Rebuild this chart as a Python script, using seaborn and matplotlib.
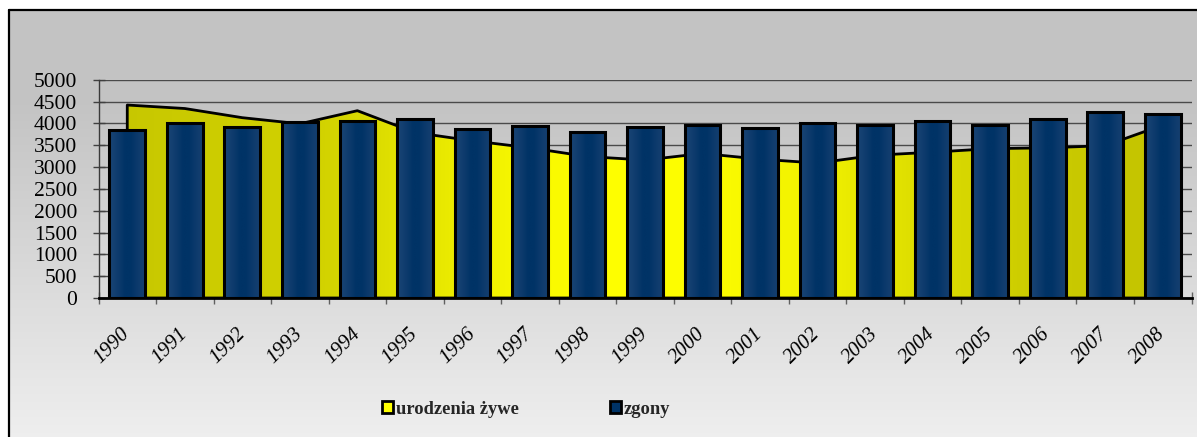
import numpy as np
import pandas as pd
import matplotlib
matplotlib.use('Agg')
import matplotlib.pyplot as plt
import seaborn as sns
from matplotlib.colors import LinearSegmentedColormap
from matplotlib.patches import Patch
from matplotlib.lines import Line2D

years = [str(y) for y in range(1990, 2009)]
births = [4420, 4340, 4130, 3990, 4290, 3790, 3600, 3440, 3240, 3160,
          3310, 3180, 3090, 3270, 3340, 3420, 3440, 3490, 3960]
deaths = [3840, 4010, 3910, 4030, 4050, 4100, 3860, 3940, 3800, 3910,
          3970, 3890, 4000, 3960, 4050, 3960, 4100, 4260, 4210]
y_ticks = list(range(0, 5001, 500))
legend_labels = ['urodzenia żywe', 'zgony']

df = pd.DataFrame({'rok': years, 'zgony': deaths, 'urodzenia': births})

sns.set_theme(style='white')
plt.rcParams['font.family'] = ['Liberation Serif', 'DejaVu Serif']

W, H = 1197, 437
fig = plt.figure(figsize=(W / 100, H / 100), dpi=100)
fig.patch.set_facecolor('white')

# grey background gradient inside the frame
bg = fig.add_axes([9 / W, 0, 1 - 9 / W, (H - 10) / H])
bg.set_axis_off()
t = np.linspace(0, 1, 300)
shade = np.where(t < 0.22, 0.768, 0.768 + (t - 0.22) / 0.78 * (0.935 - 0.768))
img = np.repeat(shade[:, None, None], 3, axis=2)
bg.imshow(img, aspect='auto', extent=[0, 1, 0, 1], origin='upper')
bg.set_xlim(0, 1)
bg.set_ylim(0, 1)

fig.add_artist(Line2D([8.5 / W, 8.5 / W], [0, 1 - 9.5 / H], transform=fig.transFigure,
                      color='black', lw=1.6))
fig.add_artist(Line2D([8.5 / W, 1], [1 - 9.5 / H, 1 - 9.5 / H], transform=fig.transFigure,
                      color='black', lw=1.6))

ax = fig.add_axes([98.5 / W, (H - 298) / H, (1191.5 - 98.5) / W, (298 - 79.7) / H])
ax.patch.set_alpha(0)

# births area with horizontal yellow gradient
x = np.arange(len(years))
area = ax.fill_between(x, df['urodzenia'], 0, facecolor='none', edgecolor='black',
                       lw=2, zorder=3)
area_cmap = LinearSegmentedColormap.from_list('area', [
    (0.0, '#c6c600'), (0.2, '#d2d200'), (0.3, '#e6e600'), (0.38, '#f6f600'),
    (0.46, '#ffff00'), (0.55, '#fdfd00'), (0.65, '#f2f200'), (0.75, '#dede00'),
    (0.86, '#cbcb00'), (1.0, '#c2c200')])
area_img = ax.imshow(np.linspace(0, 1, 256)[None, :], cmap=area_cmap, aspect='auto',
                     extent=[-0.5, 18.5, 0, 5000], zorder=2.5)
area_img.set_clip_path(area.get_paths()[0], area.get_transform())

# deaths bars
sns.barplot(data=df, x='rok', y='zgony', ax=ax, color='#003366', saturation=1,
            width=0.62, edgecolor='black', linewidth=2.2, zorder=5)
bar_cmap = LinearSegmentedColormap.from_list('bar', [
    (0.0, '#1a4575'), (0.25, '#0e3b6d'), (0.45, '#003366'), (0.6, '#003366'),
    (0.8, '#0c3a6c'), (1.0, '#163f70')])
for p in ax.patches:
    x0, y0 = p.get_x(), p.get_y()
    w, h = p.get_width(), p.get_height()
    p.set_facecolor('none')
    im = ax.imshow(np.linspace(0, 1, 64)[None, :], cmap=bar_cmap, aspect='auto',
                   extent=[x0, x0 + w, y0, y0 + h], zorder=4.5)
    im.set_clip_path(p)

ax.set_xlim(-0.5, 18.5)
ax.set_ylim(0, 5000)
ax.set_yticks(y_ticks)
ax.set_yticklabels([str(v) for v in y_ticks])
ax.yaxis.grid(True, color='#4a4a4a', lw=1.0)
ax.set_axisbelow(True)
ax.set_xlabel('')
ax.set_ylabel('')

ax.set_xticks(x)
ax.set_xticklabels(years)
ax.set_xticks(np.arange(-0.5, 18.6, 1), minor=True)
ax.tick_params(axis='x', which='major', bottom=True, length=0, pad=24, labelsize=15,
               labelcolor='black')
ax.tick_params(axis='x', which='minor', bottom=True, direction='inout', length=9,
               width=1, color='#606060')
ax.tick_params(axis='y', left=True, direction='inout', length=9, width=1, color='#404040',
               pad=11, labelsize=15.5, labelcolor='black')
for lab in ax.get_xticklabels():
    lab.set_rotation(45)
    lab.set_ha('right')
    lab.set_va('center')
    lab.set_rotation_mode('anchor')
    lab.set_style('italic')

for s in ['top', 'right']:
    ax.spines[s].set_visible(False)
ax.spines['left'].set_color('#3a3a3a')
ax.spines['left'].set_linewidth(1)
ax.spines['bottom'].set_color('black')
ax.spines['bottom'].set_linewidth(2)
ax.spines['bottom'].set_zorder(6)

handles = [Patch(facecolor='#ffff00', edgecolor='black', lw=2),
           Patch(facecolor='#003366', edgecolor='black', lw=2)]
fig.legend(handles, legend_labels, loc='center left', bbox_to_anchor=(382 / W, 1 - 409 / H),
           ncol=2, frameon=False, prop={'weight': 'bold', 'size': 13.3},
           handlelength=0.62, handleheight=0.62, handletextpad=0.15, columnspacing=4.9,
           borderpad=0, borderaxespad=0)

fig.savefig('out.png', dpi=100)
